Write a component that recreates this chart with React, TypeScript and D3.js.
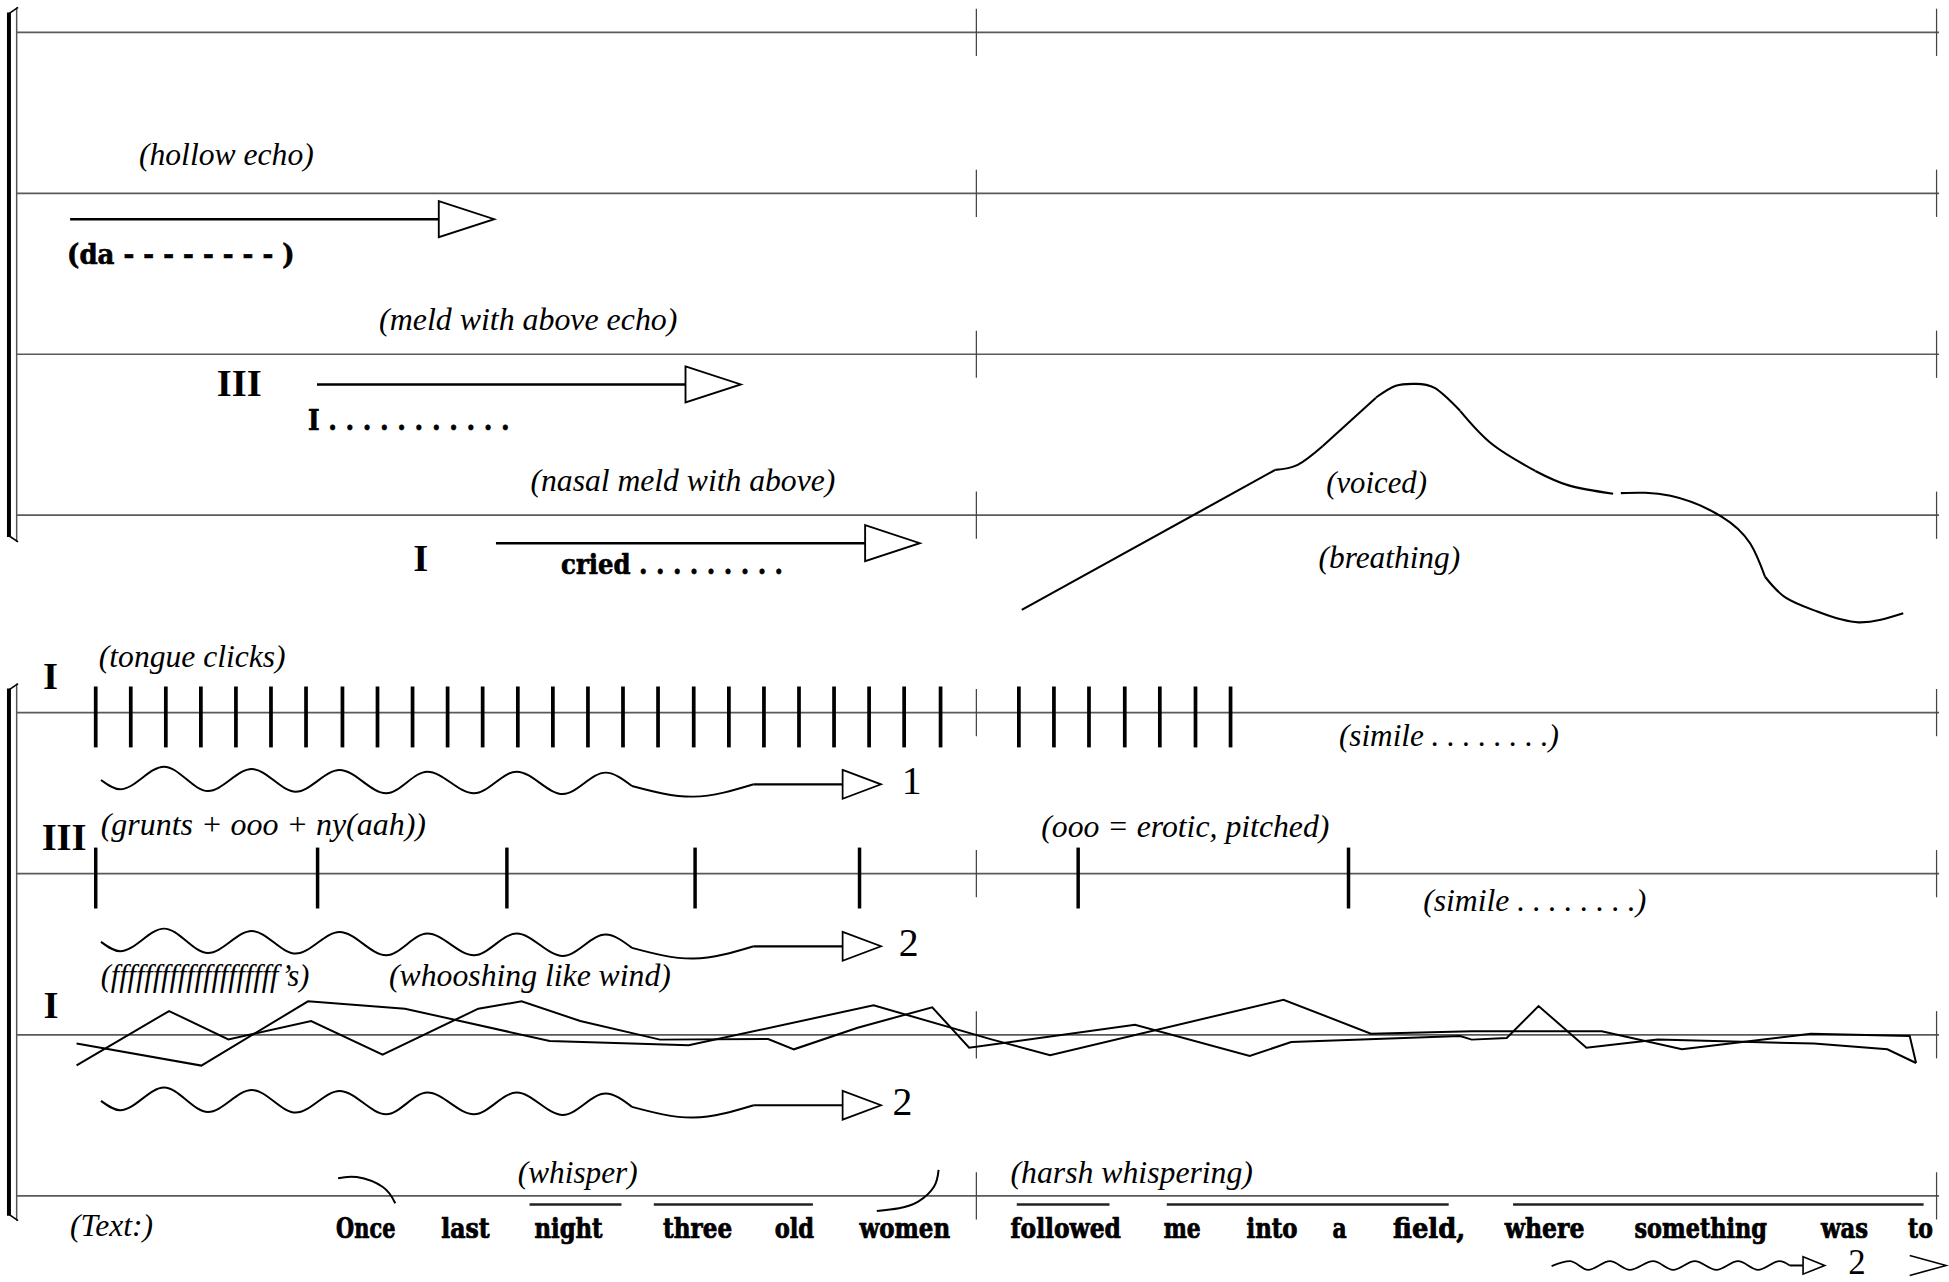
import React, { useEffect, useRef } from 'react';
import * as d3 from 'd3';

// Timeline in ticks: one measure = 772 ticks, the staff starts at tick 0.
const MEASURE = 772;
const barlineTicks = [771.5, 1544];

// Staff line positions are handled by point scales, two systems of four staves.
const topStaves = [0, 1, 2, 3];
const bottomStaves = [4, 5, 6, 7];

// Italic performance notes
const noteTexts = [
  '(hollow echo)',
  '(meld with above echo)',
  '(nasal meld with above)',
  '(voiced)',
  '(breathing)',
  '(tongue clicks)',
  '(simile . . . . . . . .)',
  '(grunts + ooo + ny(aah))',
  '(ooo = erotic, pitched)',
  '(simile . . . . . . . .)',
  '(ffffffffffffffffffff\u2019s)',
  '(whooshing like wind)',
  '(whisper)',
  '(harsh whispering)',
  '(Text:)',
];
const noteStaff = [1, 2, 3, 3, 3, 4, 4, 5, 5, 5, 6, 6, 7, 7, 7];
const noteDrop = [-23, -19.5, -19.5, -17.5, 42.5, -36.3, 26.7, -31.2, -29.2, 29.8, -39.5, -39.5, -10.1, -10.1, 31.9];
const noteStart = [97.8, 291, 412.8, 1053, 1046.8, 65.5, 1063.2, 67, 823.7, 1131, 67, 299, 402.6, 799, 42.4];
const noteEnd = [238.4, 531, 658, 1134, 1160.7, 215.8, 1240.2, 328.7, 1055.5, 1310.5, 234.8, 525.7, 499, 994, 109];

// Bold syllable labels in the top system
const syllableTexts = ['(da - - - - - - - - )', 'I . . . . . . . . . . .', 'cried . . . . . . . . .'];
const syllableStaff = [1, 2, 3];
const syllableDrop = [57, 61.2, 47];
const syllableStart = [40, 233.8, 437.4];
const syllableEnd = [223, 396, 616];

// Voice numerals
const romanTexts = ['III', 'I', 'I', 'III', 'I'];
const romanStaff = [2, 3, 4, 5, 6];
const romanTick = [160.4, 318.4, 20.5, 19.5, 21];
const romanDrop = [33.5, 44.5, -19.3, -18.8, -13.1];

// Sustain arrows in the top system
const arrowStaff = [1, 2, 3];
const arrowStart = [42.4, 241, 385];
const arrowBase = [339, 537.5, 682];
const arrowTip = [383.6, 582, 726];
const arrowDrop = [20.8, 24.3, 22.5];

// Tongue clicks and grunts (onsets)
const clickTicks = [63, 91.2, 119.4, 147.6, 175.8, 204, 232.2, 261.5, 289.7, 317.9, 346.1, 374.3, 402.6, 430.8, 459, 487.2,
  515.4, 544.1, 572.4, 600.6, 628.8, 657, 685.2, 713.4, 742.7, 805.7, 833.9, 862.1, 890.9, 919.1, 947.8, 976];
const gruntTicks = [63, 241.5, 393.8, 545.2, 677.5, 853.4, 1070.9];

// Wavy breath lines (same shape on three staves)
const waveStaff = [4, 5, 6];
const waveDrop = [57.7, 58.4, 56.7];
const waveLabels = ['1', '2', '2'];
const waveLabelTick = [711.5, 709, 704];
const waveTicks = [67.2, 82.7, 118, 153.3, 188.6, 223.9, 259.2, 296.7, 329.8, 367.3, 401.7, 438.8, 473.2, 494.4];
const waveLevels = [3.5, -4, 14.2, -5.4, 12.3, -5.9, 11.5, -7.2, 10.2, -7.2, 10.2, -7.8, 9.4, -1.3];
const sagTicks = [494.4, 543.8, 592.4];
const sagLevels = [-1.3, -9.9, 0];
const waveShaftEnd = 663.9;
const waveHeadTip = 694.8;

// Small wave at the end of the text line
const tailTicks = [1234.3, 1249, 1263.7, 1281.2, 1297.2, 1316, 1332.1, 1349.5, 1366.9, 1384.3, 1400.4, 1417.8, 1425.9];
const tailLevels = [-0.5, 3.5, -3.5, 3.5, -3.5, 3.5, -3.5, 3.5, -3.5, 3.5, -3.5, 3.5, 0];

// Wind contours (two voices)
const windATicks = [47.6, 122, 169.7, 236.3, 293.8, 370.8, 405.6, 452.8, 517, 604, 624.7, 676, 736, 765.7, 899.1, 991.4,
  1024.8, 1160.7, 1170, 1198.2, 1223.8, 1262.3, 1319.7, 1445.4, 1504.4, 1527.5];
const windALevels = [-24.6, 19.1, -3.7, 11.1, -16, 21, 26.9, 11.1, -3.9, -3.4, -11.7, 5.7, 22.1, -10.4, 8.1, -17.1,
  -5.8, -1, -3.9, -2.6, 23.1, -10.4, -3.9, -7.1, -11.7, -22.7];
const windBTicks = [47.6, 148, 233.8, 311.8, 428.2, 540, 688.8, 783.6, 830.8, 1018.6, 1088.9, 1170, 1274.6, 1339.2,
  1442.9, 1522.4, 1527.5];
const windBLevels = [-7.1, -24.8, 26.9, 21, -5, -8.5, 23.7, -3.7, -16.5, 28.2, 0.9, 2.8, 2.8, -11.7, 0.9, -1, -22.7];

// Voiced / breathing contour, drawn as joined strokes
const contourSegments: [number, number][][] = [
  [[808, -76.2], [1012, 36.5]],
  [[1012, 36.5], [1030, 40.5], [1050, 55.5]],
  [[1050, 55.5], [1093, 94.5]],
  [[1093, 94.7], [1109, 104.1], [1123.8, 105.7], [1140.2, 102.4], [1160.7, 84]],
  [[1160.7, 84], [1186.3, 57.3], [1221.2, 35.6]],
  [[1221.2, 35.6], [1248, 24], [1283.8, 17.3]],
  [[1290, 17.8], [1330, 15.6], [1371, -1.1], [1394.1, -22.8], [1406, -49.5]],
  [[1406, -49.5], [1422.3, -66.1], [1448, -77.5], [1481.3, -86.2], [1517.2, -78.9]],
];

// Text line
const lyricWords = ['Once', 'last', 'night', 'three', 'old', 'women', 'followed', 'me', 'into', 'a', 'field,', 'where',
  'something', 'was', 'to'];
const lyricStart = [256.4, 341, 416, 519.5, 609.3, 677.5, 799, 922.2, 988.8, 1058, 1106.8, 1196.6, 1301, 1451, 1521];
const lyricEnd = [304.1, 380, 470.8, 575, 641, 750.4, 887.8, 952, 1029.9, 1069.4, 1164.8, 1260.7, 1407.5, 1489, 1541];
const phraseStart = [412, 512, 804, 924.7, 1203.3];
const phraseEnd = [486, 640, 878.6, 1151.5, 1533.6];
const slurs: [number, number][][] = [
  [[258, 14.1], [273, 15.1], [294, 7.1], [304, -5.9]],
  [[741.1, 20.9], [737.5, 7.5], [724.7, -4.6], [709.3, -9.9], [691.4, -12.1]],
];

const ITALIC = '"Liberation Serif", "Times New Roman", serif';
const SLAB = '"DejaVu Serif Condensed", "DejaVu Serif", serif';
const ROMAN = '"Liberation Serif", "Times New Roman", serif';

const App: React.FC = () => {
  const svgRef = useRef<SVGSVGElement>(null);

  useEffect(() => {
    if (!svgRef.current) return;
    const svg = d3.select(svgRef.current);
    svg.selectAll('*').remove();

    const x = d3.scaleLinear().domain([0, 2 * MEASURE]).range([14, 1558]);
    const topY = d3.scalePoint<number>().domain(topStaves).range([26, 414.5]);
    const bottomY = d3.scalePoint<number>().domain(bottomStaves).range([573.3, 962.1]);
    const sy = (i: number) => (i < 4 ? topY(i)! : bottomY(i)!);

    const g = svg.append('g');
    const ink = '#000';

    // brackets
    const drawBracket = (y0: number, y1: number) => {
      g.append('line').attr('x1', 13.4).attr('x2', 13.4).attr('y1', y0).attr('y2', y1)
        .attr('stroke', '#555').attr('stroke-width', 1.2);
      g.append('line').attr('x1', 7.2).attr('x2', 7.2).attr('y1', y0 + 4).attr('y2', y1 - 4)
        .attr('stroke', ink).attr('stroke-width', 3.2);
      g.append('path').attr('d', `M7.2 ${y0 + 5} L14.5 ${y0}`).attr('stroke', ink).attr('stroke-width', 1.3).attr('fill', 'none');
      g.append('path').attr('d', `M7.2 ${y1 - 5} L14.5 ${y1}`).attr('stroke', ink).attr('stroke-width', 1.3).attr('fill', 'none');
    };
    drawBracket(6, 436);
    drawBracket(550, 982);

    // staff lines + barlines
    const allStaves = [...topStaves, ...bottomStaves];
    g.selectAll('line.staff').data(allStaves).join('line')
      .attr('class', 'staff')
      .attr('x1', x(-0.6)).attr('x2', x(1546))
      .attr('y1', d => sy(d)).attr('y2', d => sy(d))
      .attr('stroke', '#5a5a5a').attr('stroke-width', 1.4);
    allStaves.forEach(s => {
      barlineTicks.forEach(t => {
        g.append('line').attr('x1', x(t)).attr('x2', x(t))
          .attr('y1', sy(s) - 19).attr('y2', sy(s) + 19)
          .attr('stroke', '#444').attr('stroke-width', 1);
      });
    });

    // italic notes
    g.selectAll('text.note').data(d3.range(noteTexts.length)).join('text')
      .attr('class', 'note')
      .attr('x', i => x(noteStart[i]))
      .attr('y', i => sy(noteStaff[i]) + noteDrop[i])
      .attr('textLength', i => x(noteEnd[i]) - x(noteStart[i]))
      .attr('lengthAdjust', 'spacingAndGlyphs')
      .style('font-family', ITALIC).style('font-style', 'italic').style('font-size', '25px')
      .attr('fill', ink)
      .text(i => noteTexts[i]);

    // bold syllables
    g.selectAll('text.syl').data(d3.range(syllableTexts.length)).join('text')
      .attr('class', 'syl')
      .attr('x', i => x(syllableStart[i]))
      .attr('y', i => sy(syllableStaff[i]) + syllableDrop[i])
      .attr('textLength', i => x(syllableEnd[i]) - x(syllableStart[i]))
      .attr('lengthAdjust', 'spacingAndGlyphs')
      .style('font-family', SLAB).style('font-weight', 'bold').style('font-size', '22px')
      .attr('fill', ink).attr('stroke', ink).attr('stroke-width', 0.5)
      .text(i => syllableTexts[i]);

    // roman numerals
    g.selectAll('text.roman').data(d3.range(romanTexts.length)).join('text')
      .attr('class', 'roman')
      .attr('x', i => x(romanTick[i]))
      .attr('y', i => sy(romanStaff[i]) + romanDrop[i])
      .style('font-family', ROMAN).style('font-weight', 'bold').style('font-size', '31px')
      .attr('fill', ink)
      .text(i => romanTexts[i]);

    // sustain arrows
    const head = (base: number, tip: number, y: number, h: number) =>
      `M${base} ${y - h} L${tip} ${y} L${base} ${y + h} Z`;
    arrowStaff.forEach((s, i) => {
      const y = sy(s) + arrowDrop[i];
      g.append('line').attr('x1', x(arrowStart[i])).attr('x2', x(arrowBase[i]))
        .attr('y1', y).attr('y2', y).attr('stroke', ink).attr('stroke-width', 2);
      g.append('path').attr('d', head(x(arrowBase[i]), x(arrowTip[i]), y, 14.5))
        .attr('fill', '#fff').attr('stroke', ink).attr('stroke-width', 1.5);
    });

    // clicks and grunts
    g.selectAll('line.click').data(clickTicks).join('line')
      .attr('class', 'click')
      .attr('x1', d => x(d)).attr('x2', d => x(d))
      .attr('y1', sy(4) - 21).attr('y2', sy(4) + 28)
      .attr('stroke', ink).attr('stroke-width', 3);
    g.selectAll('line.grunt').data(gruntTicks).join('line')
      .attr('class', 'grunt')
      .attr('x1', d => x(d)).attr('x2', d => x(d))
      .attr('y1', sy(5) - 21).attr('y2', sy(5) + 28)
      .attr('stroke', ink).attr('stroke-width', 2.8);

    // wavy breath lines
    waveStaff.forEach((s, i) => {
      const y0 = sy(s) + waveDrop[i];
      const wave = d3.line<number>().x(j => x(waveTicks[j])).y(j => y0 - waveLevels[j]).curve(d3.curveMonotoneX);
      const sag = d3.line<number>().x(j => x(sagTicks[j])).y(j => y0 - sagLevels[j]).curve(d3.curveNatural);
      g.append('path').attr('d', wave(d3.range(waveTicks.length))!)
        .attr('fill', 'none').attr('stroke', ink).attr('stroke-width', 1.6);
      g.append('path').attr('d', sag(d3.range(sagTicks.length))!)
        .attr('fill', 'none').attr('stroke', ink).attr('stroke-width', 1.6);
      g.append('line').attr('x1', x(sagTicks[sagTicks.length - 1])).attr('x2', x(waveShaftEnd))
        .attr('y1', y0).attr('y2', y0).attr('stroke', ink).attr('stroke-width', 1.8);
      g.append('path').attr('d', head(x(waveShaftEnd), x(waveHeadTip), y0, 11.6))
        .attr('fill', '#fff').attr('stroke', ink).attr('stroke-width', 1.4);
      g.append('text').attr('x', x(waveLabelTick[i])).attr('y', y0 + 7.5)
        .style('font-family', ROMAN).style('font-size', '32px').attr('fill', ink)
        .text(waveLabels[i]);
    });

    // wind contours
    const windLine = (ticks: number[], levels: number[]) =>
      d3.line<number>().x(j => x(ticks[j])).y(j => sy(6) - levels[j])(d3.range(ticks.length))!;
    [[windATicks, windALevels], [windBTicks, windBLevels]].forEach(([t, l]) => {
      g.append('path').attr('d', windLine(t, l))
        .attr('fill', 'none').attr('stroke', ink).attr('stroke-width', 1.6).attr('stroke-linejoin', 'miter');
    });

    // voiced / breathing contour
    const contour = d3.line<[number, number]>().x(d => x(d[0])).y(d => sy(3) - d[1]).curve(d3.curveNatural);
    contourSegments.forEach(seg => {
      g.append('path').attr('d', contour(seg)!)
        .attr('fill', 'none').attr('stroke', ink).attr('stroke-width', 1.7);
    });

    // text line
    const ly = sy(7);
    g.selectAll('text.lyric').data(d3.range(lyricWords.length)).join('text')
      .attr('class', 'lyric')
      .attr('x', i => x(lyricStart[i]))
      .attr('y', ly + 34)
      .attr('textLength', i => x(lyricEnd[i]) - x(lyricStart[i]))
      .attr('lengthAdjust', 'spacingAndGlyphs')
      .style('font-family', SLAB).style('font-weight', 'bold').style('font-size', '23px')
      .attr('fill', ink).attr('stroke', ink).attr('stroke-width', 0.6)
      .text(i => lyricWords[i]);
    g.selectAll('line.phrase').data(d3.range(phraseStart.length)).join('line')
      .attr('class', 'phrase')
      .attr('x1', i => x(phraseStart[i])).attr('x2', i => x(phraseEnd[i]))
      .attr('y1', ly + 7).attr('y2', ly + 7)
      .attr('stroke', '#222').attr('stroke-width', 2);
    const slurLine = d3.line<[number, number]>().x(d => x(d[0])).y(d => ly - d[1]).curve(d3.curveNatural);
    slurs.forEach(s => {
      g.append('path').attr('d', slurLine(s)!)
        .attr('fill', 'none').attr('stroke', ink).attr('stroke-width', 1.6);
    });

    // trailing wave -> 2 >
    const ty = ly + 56;
    const tail = d3.line<number>().x(j => x(tailTicks[j])).y(j => ty - tailLevels[j]).curve(d3.curveMonotoneX);
    g.append('path').attr('d', tail(d3.range(tailTicks.length))!)
      .attr('fill', 'none').attr('stroke', ink).attr('stroke-width', 1.4);
    g.append('line').attr('x1', x(1425.9)).attr('x2', x(1436.6)).attr('y1', ty).attr('y2', ty)
      .attr('stroke', ink).attr('stroke-width', 1.6);
    g.append('path').attr('d', head(x(1436.6), x(1454), ty, 7))
      .attr('fill', '#fff').attr('stroke', ink).attr('stroke-width', 1.3);
    g.append('text').attr('x', x(1473)).attr('y', ty + 7)
      .style('font-family', ROMAN).style('font-size', '28px').attr('fill', ink).text('2');
    g.append('path')
      .attr('d', `M${x(1522.4)} ${ty - 8} L${x(1551.8)} ${ty} L${x(1522.4)} ${ty + 8}`)
      .attr('fill', 'none').attr('stroke', ink).attr('stroke-width', 1.3);
  }, []);

  return (
    <div style={{ position: 'absolute', left: 0, top: 0, width: 1949, height: 1282, background: '#fff' }}>
      <svg ref={svgRef} width={1949} height={1282} viewBox="0 0 1568 1031.4" style={{ display: 'block' }} />
    </div>
  );
};

export default App;
